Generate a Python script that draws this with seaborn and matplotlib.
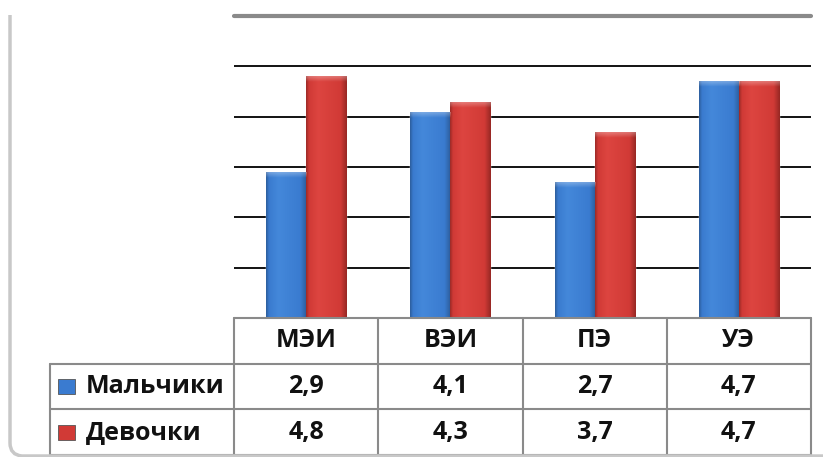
import numpy as np
import pandas as pd
import matplotlib
matplotlib.use("Agg")
import matplotlib.pyplot as plt
import seaborn as sns
from matplotlib.colors import LinearSegmentedColormap
from matplotlib.patches import Rectangle, PathPatch
from matplotlib.path import Path
from matplotlib.transforms import IdentityTransform

categories = ["МЭИ", "ВЭИ", "ПЭ", "УЭ"]
groups = ["Мальчики", "Девочки"]
boys = [2.9, 4.1, 2.7, 4.7]
girls = [4.8, 4.3, 3.7, 4.7]

blue = "#3a7bd0"
red = "#d13a36"

df = pd.DataFrame({
    "cat": categories * 2,
    "group": [groups[0]] * 4 + [groups[1]] * 4,
    "val": boys + girls,
})

sns.set_style("white")
plt.rcParams["font.family"] = ["Open Sans", "DejaVu Sans"]

W, H = 823, 457
fig = plt.figure(figsize=(W / 100, H / 100), dpi=100)

# chart area
ax = fig.add_axes([234 / W, (H - 318) / H, (811 - 234) / W, (318 - 16) / H])
sns.barplot(data=df, x="cat", y="val", hue="group", palette=[blue, red],
            width=0.556, saturation=1, legend=False, ax=ax, zorder=3)
ax.set_xlim(-0.5, 3.5)
ax.set_ylim(0, 6)
ax.set_yticks([1, 2, 3, 4, 5])
ax.yaxis.grid(True, color="black", lw=1.3)
ax.set_axisbelow(True)
ax.axhline(6, color="#8a8a8a", lw=3, clip_on=False)
ax.set_xlabel("")
ax.set_ylabel("")
ax.set_xticks([])
ax.set_yticklabels([])
ax.tick_params(length=0)
for s in ax.spines.values():
    s.set_visible(False)

# cylinder-like shading on bars
cmaps = {
    blue: LinearSegmentedColormap.from_list("b", [(0, "#2d5f9f"), (0.07, "#3a7bcf"), (0.3, "#4488da"),
                                                  (0.85, "#3a7bd0"), (1, "#2c5c9a")]),
    red: LinearSegmentedColormap.from_list("r", [(0, "#9e2b28"), (0.07, "#d03a36"), (0.3, "#dd4540"),
                                                 (0.85, "#d13a36"), (1, "#982824")]),
}
grad = np.linspace(0, 1, 64).reshape(1, -1)
for i, bar in enumerate(ax.patches):
    if bar.get_height() <= 0:
        continue
    cm = cmaps[blue] if i < 4 else cmaps[red]
    x0, w, h = bar.get_x(), bar.get_width(), bar.get_height()
    im = ax.imshow(grad, cmap=cm, aspect="auto", extent=[x0, x0 + w, 0, h], zorder=4)
    im.set_clip_path(bar)
    top = ax.imshow(np.linspace(1, 0, 16).reshape(-1, 1), cmap=LinearSegmentedColormap.from_list(
        "t", [(1, 1, 1, 0), (1, 1, 1, 0.35)]), aspect="auto",
        extent=[x0, x0 + w, h - 0.12, h], zorder=5)
    top.set_clip_path(bar)
ax.set_xlim(-0.5, 3.5)
ax.set_ylim(0, 6)

# data table under the chart
lab_w = (234 - 50) / 144
tax = fig.add_axes([50 / W, (H - 455) / H, (811 - 50) / W, (455 - 318) / H])
tax.set_xlim(-0.5 - lab_w, 3.5)
tax.set_ylim(0, 3)
tax.axis("off")
lc = "#8a8a8a"
tax.plot([-0.5, 3.5], [3, 3], color=lc, lw=1.5, clip_on=False)
for yy in [2, 1, 0]:
    tax.plot([-0.5 - lab_w, 3.5], [yy, yy], color=lc, lw=1.5, clip_on=False)
for k in range(5):
    tax.plot([-0.5 + k, -0.5 + k], [0, 3], color=lc, lw=1.5, clip_on=False)
tax.plot([-0.5 - lab_w] * 2, [0, 2], color=lc, lw=1.5, clip_on=False)

fs = 18
tc = "#111111"
for i, c in enumerate(categories):
    tax.text(i, 2.5, c, ha="center", va="center", fontsize=fs, fontweight="bold", color=tc)
for row, (name, vals, col) in enumerate([(groups[0], boys, blue), (groups[1], girls, red)]):
    yc = 1.5 - row
    for i, v in enumerate(vals):
        tax.text(i, yc, f"{v:.1f}".replace(".", ","), ha="center", va="center",
                 fontsize=fs, fontweight="bold", color=tc)
    sq_w = 17 / 144
    sq_h = 15 / (137 / 3)
    tax.add_patch(Rectangle((-0.5 - lab_w + 8 / 144, yc - sq_h / 2), sq_w, sq_h,
                            facecolor=col, edgecolor="#555555", lw=0.6))
    tax.text(-0.5 - lab_w + 36 / 144, yc, name, ha="left", va="center",
             fontsize=fs, fontweight="bold", color=tc)

# rounded outer frame (left and bottom edges visible)
frame = Path([(10, H - 15), (10, 14), (10, 2), (22, 1), (900, 1)],
             [Path.MOVETO, Path.LINETO, Path.CURVE3, Path.CURVE3, Path.LINETO])
fig.patches.append(PathPatch(frame, transform=IdentityTransform(), fill=False,
                             edgecolor="#c8c8c8", lw=2.5, figure=fig))

fig.savefig("out.png", dpi=100)
